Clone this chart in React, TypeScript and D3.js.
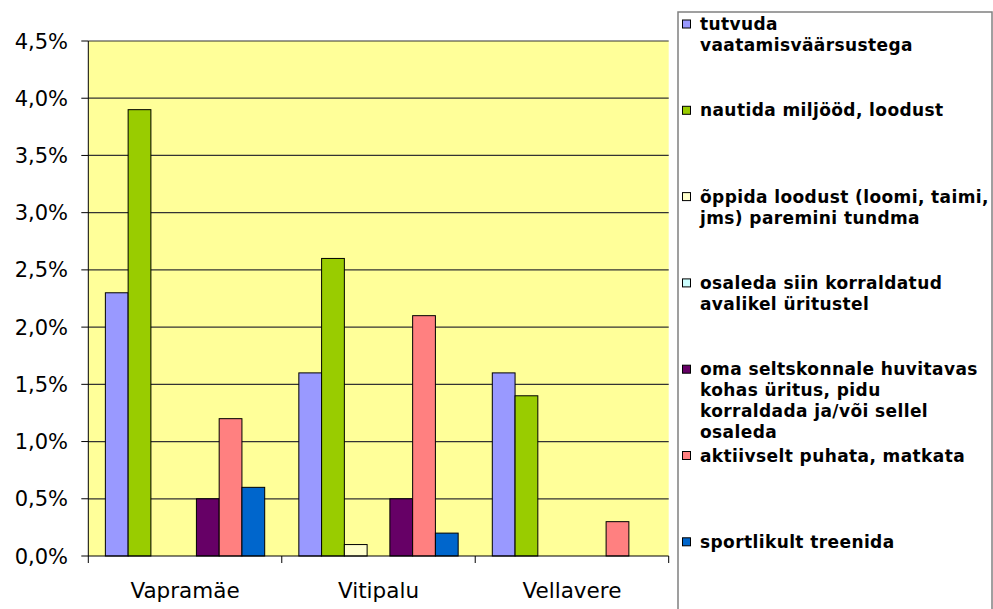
import React from "react";
import * as d3 from "d3";

const categories = ["Vapramäe", "Vitipalu", "Vellavere"];
const seriesNames = [
  ["tutvuda", "vaatamisväärsustega"],
  ["nautida miljööd, loodust"],
  ["õppida loodust (loomi, taimi,", "jms) paremini tundma"],
  ["osaleda siin korraldatud", "avalikel üritustel"],
  ["oma seltskonnale huvitavas", "kohas üritus, pidu", "korraldada ja/või sellel", "osaleda"],
  ["aktiivselt puhata, matkata"],
  ["sportlikult treenida"],
];
const seriesColors = ["#9999FF", "#99CC00", "#FFFFCC", "#CCFFFF", "#660066", "#FF8080", "#0066CC"];
// values in percent, per series, per category
const seriesValues = [
  [2.3, 1.6, 1.6],
  [3.9, 2.6, 1.4],
  [0, 0.1, 0],
  [0, 0, 0],
  [0.5, 0.5, 0],
  [1.2, 2.1, 0.3],
  [0.6, 0.2, 0],
];
const yTicks = [0, 0.5, 1, 1.5, 2, 2.5, 3, 3.5, 4, 4.5];

export default function App() {
  const W = 993, H = 609;
  const left = 88.3, right = 668.7, top = 41, bottom = 556;
  const y = d3.scaleLinear().domain([0, 4.5]).range([bottom, top]);
  const x0 = d3.scaleBand().domain(categories).range([left, right]).paddingInner(0).paddingOuter(0);
  const groupW = x0.bandwidth();
  const barW = groupW / (seriesNames.length + 1.5);
  const gap = (groupW - barW * seriesNames.length) / 2;
  const fmt = (v: number) => v.toFixed(1).replace(".", ",") + "%";

  const legendX = 678, legendY = 12;
  const entryStep = 86.3;
  const lineH = 21;

  return (
    <svg width={W} height={H} style={{ position: "absolute", left: 0, top: 0, background: "#fff" }}
      fontFamily="'DejaVu Sans', Verdana, sans-serif">
      <rect x={left} y={top} width={right - left} height={bottom - top} fill="#FFFF99" />
      {yTicks.map((t) => (
        <g key={t}>
          {t > 0 && <line x1={left} x2={right} y1={y(t)} y2={y(t)} stroke="#333" strokeWidth={1.2} />}
          <line x1={left - 7} x2={left} y1={y(t)} y2={y(t)} stroke="#000" strokeWidth={1} />
          <text x={68} y={y(t)} dy="0.36em" textAnchor="end" fontSize={21} fill="#000">{fmt(t)}</text>
        </g>
      ))}
      {categories.map((c, ci) => (
        <g key={c}>
          {seriesValues.map((vals, si) => {
            const v = vals[ci];
            if (v <= 0) return null;
            const bx = (x0(c) as number) + gap + si * barW;
            return (
              <rect key={si} x={bx} y={y(v)} width={barW} height={y(0) - y(v)}
                fill={seriesColors[si]} stroke="#000" strokeWidth={1} />
            );
          })}
          <text x={(x0(c) as number) + groupW / 2} y={598} textAnchor="middle" fontSize={21.5} fill="#000">{c}</text>
        </g>
      ))}
      <line x1={left} x2={left} y1={top} y2={bottom} stroke="#000" strokeWidth={1} />
      <line x1={left} x2={right} y1={bottom} y2={bottom} stroke="#000" strokeWidth={1} />
      {[...categories.map((c) => x0(c) as number), right].map((tx, i) => (
        <line key={i} x1={tx} x2={tx} y1={bottom} y2={bottom + 7} stroke="#000" strokeWidth={1} />
      ))}
      <rect x={legendX} y={legendY} width={314} height={620} fill="#fff" stroke="#808080" strokeWidth={1.5} />
      {seriesNames.map((lines, si) => {
        const cy = legendY + 12 + si * entryStep;
        return (
          <g key={si}>
            <rect x={682.5} y={cy - 4} width={8} height={8} fill={seriesColors[si]} stroke="#000" strokeWidth={1} />
            {lines.map((ln, li) => (
              <text key={li} x={700} y={cy + li * lineH} dy="0.36em" fontSize={17} letterSpacing={0.4}
                fontWeight="bold" fill="#000">{ln}</text>
            ))}
          </g>
        );
      })}
    </svg>
  );
}
